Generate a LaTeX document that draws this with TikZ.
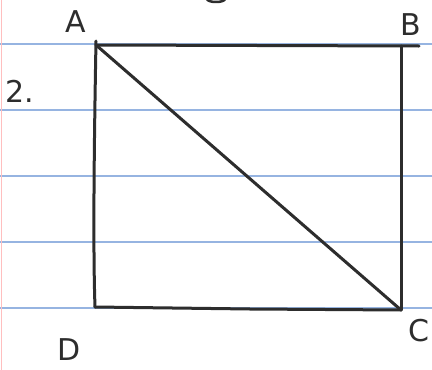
\documentclass[tikz,border=0pt]{standalone}
\usepackage{fontspec}
\setmainfont{DejaVu Sans}
\definecolor{ruleblue}{RGB}{150,180,225}
\definecolor{inkgray}{RGB}{45,45,45}
\begin{document}
\begin{tikzpicture}[x=1pt,y=-1pt,
  rule/.style={draw=ruleblue, line width=1.3pt},
  ink/.style={draw=inkgray, line width=3pt, line cap=round, line join=round},
  lbl/.style={text=inkgray, font=\fontsize{30}{30}\selectfont, inner sep=0pt}]
\fill[white] (0,0) rectangle (432,370);
\useasboundingbox (0,0) rectangle (432,370);
% ruled lines
\foreach \yy in {44,110,176,242,308}
  \draw[rule] (0,\yy) -- (432,\yy);
\draw[draw=red!25, line width=1pt] (1,0) -- (1,370);
% fragment of previous writing
\draw[ink, line width=2.5pt] (207,-1) arc (180:0:9 and 3);
% corners
\coordinate (A) at (96,45);
\coordinate (B) at (401,46);
\coordinate (C) at (401,310);
\coordinate (D) at (95,307);
\coordinate (Bx) at (419,46);
\coordinate (At) at (96,41);
% rectangle and diagonal
\draw[ink] (A) -- (Bx);
\draw[ink] (At) .. controls (94,150) and (93,250) .. (D);
\draw[ink] (D) -- (250,309) -- (C);
\draw[ink] (B) -- (C);
\draw[ink] (A) -- (C);
% labels
\node[lbl] (la) at (76,22) {A};
\node[lbl] (lb) at (411,25) {B};
\node[lbl] (lc) at (419,331) {C};
\node[lbl] (ld) at (69,350) {D};
\node[lbl] (l2) at (20,91) {2.};
\end{tikzpicture}
\end{document}
